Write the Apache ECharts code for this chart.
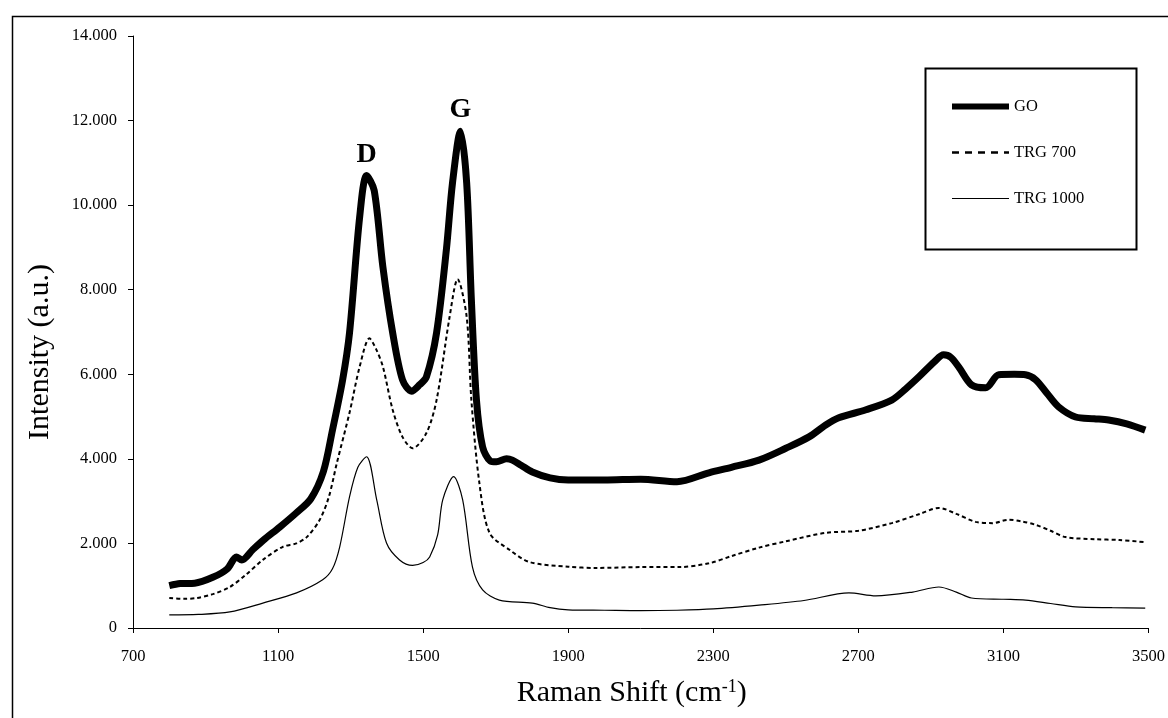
<!DOCTYPE html>
<html>
<head>
<meta charset="utf-8">
<script src="https://cdn.jsdelivr.net/npm/echarts@6/dist/echarts.min.js"></script>
<style>
html,body{margin:0;padding:0;background:#fff;}
#chart{width:1168px;height:718px;}
</style>
</head>
<body>
<div id="chart"></div>
<script>
// Raman shift (cm-1) and intensity (a.u.)
var goShift = [800,830,870,920,960,985,1000,1030,1060,1105,1150,1190,1225,1250,1278,1297,1325,1344,1365,1389,1416,1443,1468,1490,1509,1537,1564,1581,1603,1620,1633,1647,1664,1685,1702,1730,1746,1770,1801,1850,1900,2000,2100,2200,2288,2350,2426,2500,2564,2610,2646,2721,2792,2830,2867,2910,2935,2955,2977,3012,3051,3087,3130,3161,3189,3220,3252,3299,3350,3390,3440,3491];
var goIntensity = [1000,1050,1060,1200,1400,1680,1610,1850,2080,2390,2720,3050,3700,4680,5870,6980,9720,10700,10350,8540,6980,5870,5600,5750,5940,6980,8940,10530,11750,10530,7760,5390,4280,3950,3930,4000,3970,3850,3690,3550,3500,3500,3520,3460,3670,3800,3970,4250,4520,4800,4970,5160,5390,5650,5940,6300,6460,6400,6170,5750,5680,5990,6000,5990,5870,5550,5230,4990,4950,4920,4830,4680];

var trg700Shift = [800,840,876,920,967,1010,1058,1113,1150,1179,1215,1240,1262,1297,1325,1352,1370,1389,1416,1443,1471,1509,1537,1573,1595,1620,1633,1655,1683,1738,1793,1900,1977,2100,2206,2288,2350,2426,2500,2610,2700,2792,2870,2922,2970,3023,3070,3114,3150,3189,3230,3271,3350,3420,3491];
var trg700Intensity = [710,690,710,800,970,1250,1610,1920,2000,2150,2560,3100,3900,5090,6180,6850,6600,6180,5160,4520,4250,4610,5390,7360,8250,7360,5390,3430,2250,1850,1560,1450,1420,1440,1440,1530,1700,1900,2050,2250,2300,2480,2700,2840,2700,2510,2480,2560,2520,2440,2300,2150,2100,2080,2030];

var trg1000Shift = [800,880,967,1058,1151,1223,1250,1270,1297,1320,1344,1372,1399,1435,1471,1500,1518,1540,1554,1584,1609,1636,1664,1710,1801,1850,1900,2000,2100,2200,2300,2426,2550,2674,2748,2850,2922,2970,3012,3100,3161,3230,3299,3400,3491];
var trg1000Intensity = [310,320,380,590,830,1140,1400,1920,3100,3800,4050,3030,2010,1610,1480,1550,1680,2200,3030,3580,3030,1440,900,660,590,480,430,420,410,420,450,540,650,830,760,850,970,850,710,680,660,580,500,480,470];

var seriesNames = ['GO', 'TRG 700', 'TRG 1000'];
var peakLabels = ['D', 'G'];
var peakShift = [1344, 1603];
var peakIntensity = [10700, 11750];

function zip(a, b) { return a.map(function (v, i) { return [v, b[i]]; }); }

var serif = 'Liberation Serif, Times New Roman, serif';
var chart = echarts.init(document.getElementById('chart'));
chart.setOption({
  backgroundColor: '#fff',
  animation: false,
  grid: { left: 133, right: 18, top: 36, bottom: 90, containLabel: false },
  xAxis: {
    type: 'value', min: 700, max: 3500, interval: 400,
    name: '{a|Raman Shift (cm}{s|-1}{a|)}',
    nameLocation: 'middle', nameGap: 50,
    nameTextStyle: {
      padding: [0, 18, 0, 0],
      rich: {
        a: { fontFamily: serif, fontSize: 30, color: '#000' },
        s: { fontFamily: serif, fontSize: 18, color: '#000', verticalAlign: 'top', padding: [0, 0, 12, 0] }
      }
    },
    axisLine: { lineStyle: { color: '#000', width: 1 } },
    axisTick: { show: true, length: 5, lineStyle: { color: '#000' } },
    axisLabel: { fontFamily: serif, fontSize: 16.5, color: '#000', margin: 20, formatter: function (v) { return String(v); } },
    splitLine: { show: false }
  },
  yAxis: {
    type: 'value', min: 0, max: 14000, interval: 2000,
    name: 'Intensity (a.u.)',
    nameLocation: 'middle', nameGap: 78,
    nameTextStyle: { fontFamily: serif, fontSize: 30, color: '#000', padding: [0, 40, 0, 0] },
    axisLine: { show: true, lineStyle: { color: '#000', width: 1 } },
    axisTick: { show: true, length: 5, lineStyle: { color: '#000' } },
    axisLabel: {
      fontFamily: serif, fontSize: 16.5, color: '#000', margin: 16,
      formatter: function (v) { return v === 0 ? '0' : (v / 1000) + '.000'; }
    },
    splitLine: { show: false }
  },
  legend: {
    orient: 'vertical', left: 949, top: 98, padding: 0,
    itemWidth: 57, itemHeight: 14, itemGap: 29,
    textStyle: { fontFamily: serif, fontSize: 16.5, color: '#000' },
    itemStyle: { opacity: 0 },
    data: [
      { name: seriesNames[0], itemStyle: { opacity: 0 }, lineStyle: { width: 6, color: '#000' } },
      { name: seriesNames[1], itemStyle: { opacity: 0 }, lineStyle: { width: 2.5, color: '#000', type: [7, 6] } },
      { name: seriesNames[2], itemStyle: { opacity: 0 }, lineStyle: { width: 1, color: '#000' } }
    ]
  },
  graphic: [
    { type: 'rect', left: 10, top: 14, shape: { width: 1200, height: 760 }, style: { fill: 'none', stroke: '#000', lineWidth: 1.5 }, silent: true },
    { type: 'rect', left: 923, top: 66, shape: { width: 211, height: 181 }, style: { fill: 'none', stroke: '#000', lineWidth: 2 }, silent: true }
  ],
  series: [
    {
      name: seriesNames[0], type: 'line', data: zip(goShift, goIntensity),
      symbol: 'none', smooth: 0.3, z: 3,
      lineStyle: { color: '#000', width: 7 },
      itemStyle: { color: '#000' },
      markPoint: {
        symbol: 'circle', symbolSize: 0,
        label: { show: true, position: 'top', distance: 7, fontFamily: serif, fontSize: 28, fontWeight: 'bold', color: '#000', formatter: function (p) { return p.name; } },
        data: peakLabels.map(function (n, i) { return { name: n, coord: [peakShift[i], peakIntensity[i]] }; })
      }
    },
    {
      name: seriesNames[1], type: 'line', data: zip(trg700Shift, trg700Intensity),
      symbol: 'none', smooth: 0.3, z: 2,
      lineStyle: { color: '#000', width: 2, type: [4, 3] },
      itemStyle: { color: '#000' }
    },
    {
      name: seriesNames[2], type: 'line', data: zip(trg1000Shift, trg1000Intensity),
      symbol: 'none', smooth: 0.3, z: 1,
      lineStyle: { color: '#000', width: 1.2 },
      itemStyle: { color: '#000' }
    }
  ]
});
</script>
</body>
</html>
